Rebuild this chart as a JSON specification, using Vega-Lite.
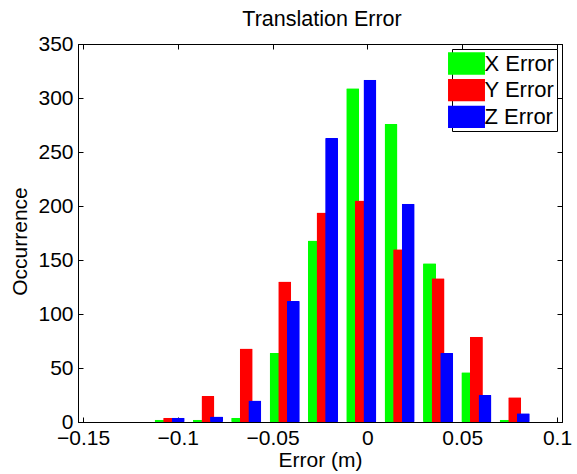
{
  "$schema": "https://vega.github.io/schema/vega-lite/v6.json",
  "width": 484,
  "height": 378,
  "autosize": {"type": "none"},
  "padding": {"left": 78, "top": 44, "right": 15, "bottom": 52},
  "background": "white",
  "title": {"text": "Translation Error", "fontSize": 21.5, "font": "Liberation Sans", "fontWeight": "normal", "offset": 3, "dx": 2, "color": "black"},
  "config": {
    "font": "Liberation Sans",
    "view": {"stroke": "black", "strokeWidth": 1},
    "axis": {"grid": false, "domainColor": "black", "tickColor": "black", "labelColor": "black", "titleColor": "black", "labelFontSize": 21, "titleFontSize": 21, "titleFontWeight": "normal", "tickSize": -5, "labelFont": "Liberation Sans", "titleFont": "Liberation Sans"}
  },
  "data": {"values": [
    {"center": -0.1043, "series": "X Error", "count": 2},
    {"center": -0.0841, "series": "X Error", "count": 2},
    {"center": -0.0639, "series": "X Error", "count": 4},
    {"center": -0.0436, "series": "X Error", "count": 64},
    {"center": -0.0234, "series": "X Error", "count": 168},
    {"center": -0.0032, "series": "X Error", "count": 309},
    {"center": 0.0170, "series": "X Error", "count": 276},
    {"center": 0.0373, "series": "X Error", "count": 147},
    {"center": 0.0575, "series": "X Error", "count": 46},
    {"center": 0.0777, "series": "X Error", "count": 2},
    {"center": -0.1043, "series": "Y Error", "count": 4},
    {"center": -0.0841, "series": "Y Error", "count": 24},
    {"center": -0.0639, "series": "Y Error", "count": 68},
    {"center": -0.0436, "series": "Y Error", "count": 130},
    {"center": -0.0234, "series": "Y Error", "count": 194},
    {"center": -0.0032, "series": "Y Error", "count": 205},
    {"center": 0.0170, "series": "Y Error", "count": 160},
    {"center": 0.0373, "series": "Y Error", "count": 133},
    {"center": 0.0575, "series": "Y Error", "count": 79},
    {"center": 0.0777, "series": "Y Error", "count": 23},
    {"center": -0.1043, "series": "Z Error", "count": 4},
    {"center": -0.0841, "series": "Z Error", "count": 5},
    {"center": -0.0639, "series": "Z Error", "count": 20},
    {"center": -0.0436, "series": "Z Error", "count": 112},
    {"center": -0.0234, "series": "Z Error", "count": 263},
    {"center": -0.0032, "series": "Z Error", "count": 317},
    {"center": 0.0170, "series": "Z Error", "count": 202},
    {"center": 0.0373, "series": "Z Error", "count": 64},
    {"center": 0.0575, "series": "Z Error", "count": 25},
    {"center": 0.0777, "series": "Z Error", "count": 8}
  ]},
  "encoding": {
    "color": {"field": "series", "type": "nominal",
      "scale": {"domain": ["X Error", "Y Error", "Z Error"], "range": ["#00ff00", "#ff0000", "#0000ff"]},
      "legend": {"title": null, "orient": "top-right", "offset": 5, "strokeColor": "black", "fillColor": "white", "padding": 2.5, "labelFontSize": 22, "labelColor": "black", "labelFont": "Liberation Sans", "symbolType": "M-1.54,-0.93H1.54V0.93H-1.54Z", "symbolSize": 576, "symbolStrokeWidth": 0, "symbolOpacity": 1, "labelOffset": 6, "rowPadding": 2.7}
    }
  },
  "layer": [
    {
      "transform": [{"filter": "datum.series === 'X Error'"}],
      "mark": {"type": "bar", "width": 13, "xOffset": -8.6, "cornerRadius": 1},
      "encoding": {
        "x": {"field": "center", "type": "quantitative", "scale": {"domain": [-0.15, 0.1], "nice": false, "zero": false},
          "axis": {"title": "Error (m)", "values": [-0.15, -0.1, -0.05, 0, 0.05, 0.1], "format": ".2~f", "labelPadding": 10, "titleY": 44, "titleBaseline": "alphabetic"}},
        "y": {"field": "count", "type": "quantitative", "scale": {"domain": [0, 350], "nice": false},
          "axis": {"title": "Occurrence", "values": [0, 50, 100, 150, 200, 250, 300, 350], "labelPadding": 10, "titleX": -52, "titleY": 197, "titleBaseline": "alphabetic"}}
      }
    },
    {
      "transform": [{"filter": "datum.series === 'Y Error'"}],
      "mark": {"type": "bar", "width": 13, "xOffset": 0, "cornerRadius": 1},
      "encoding": {
        "x": {"field": "center", "type": "quantitative", "scale": {"domain": [-0.15, 0.1], "nice": false, "zero": false},
          "axis": {"orient": "top", "title": null, "labels": false, "values": [-0.15, -0.1, -0.05, 0, 0.05, 0.1]}},
        "y": {"field": "count", "type": "quantitative", "scale": {"domain": [0, 350], "nice": false},
          "axis": {"orient": "right", "title": null, "labels": false, "values": [0, 50, 100, 150, 200, 250, 300, 350]}}
      }
    },
    {
      "transform": [{"filter": "datum.series === 'Z Error'"}],
      "mark": {"type": "bar", "width": 13, "xOffset": 8.6, "cornerRadius": 1},
      "encoding": {
        "x": {"field": "center", "type": "quantitative", "scale": {"domain": [-0.15, 0.1], "nice": false, "zero": false}, "axis": null},
        "y": {"field": "count", "type": "quantitative", "scale": {"domain": [0, 350], "nice": false}, "axis": null}
      }
    }
  ],
  "resolve": {"axis": {"x": "independent", "y": "independent"}}
}
